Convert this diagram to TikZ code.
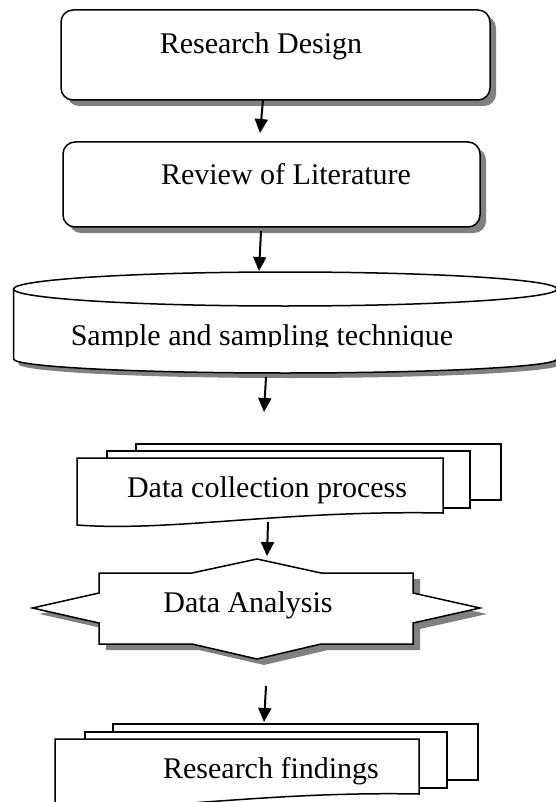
\documentclass[tikz,border=0pt]{standalone}
\usepackage{fontspec}
\newfontfamily\diagfont{Liberation Serif}
\usetikzlibrary{arrows.meta}
\begin{document}
\begin{tikzpicture}[x=1pt,y=-1pt,
  outline/.style={draw=black,line width=1.5pt,fill=white,line join=miter},
  shade/.style={fill=black!50,draw=none},
  txt/.style={anchor=base,inner sep=0pt,font=\diagfont\fontsize{30}{36}\selectfont},
  flow/.style={line width=2pt,-{Triangle[length=14pt,width=13pt]}}]
\useasboundingbox (0,0) rectangle (556,802);
\clip (0,0) rectangle (556,802);

% Research Design
\fill[shade,rounded corners=12pt] (67,16) rectangle (496,106);
\draw[outline,rounded corners=12pt] (61,10) rectangle (490,100);
\node[txt] (rd) at (261,54) {Research Design};

% Review of Literature
\fill[shade,rounded corners=12pt] (69,148) rectangle (486,233);
\draw[outline,rounded corners=12pt] (63,142) rectangle (480,227);
\node[txt] (rl) at (286,185) {Review of Literature};

% Sample and sampling technique (drum)
\def\drumbody{(13.5,289) -- (13.5,359)
  .. controls (13.5,366.7) and (135.25,373) .. (285.25,373)
  .. controls (435.25,373) and (557,366.7) .. (557,359) -- (557,289)}
\fill[shade,shift={(5,5)}] \drumbody -- cycle;
\fill[white] \drumbody -- cycle;
\draw[line width=1.5pt] \drumbody;
\draw[outline] (285.25,289) ellipse [x radius=271.75, y radius=17];
\begin{scope}
  \clip (0,300) rectangle (556,346.5);
  \node[txt] (st) at (262,345) {Sample and sampling technique};
\end{scope}

% Data collection process (stacked documents)
\draw[outline] (136,444) rectangle (501,500);
\draw[outline] (107,451) rectangle (470,508);
\draw[outline] (77,458) -- (443,458) -- (443,513)
  .. controls (283,510) and (170,532) .. (77,525) -- cycle;
\node[txt] (dc) at (267,497) {Data collection process};

% Data Analysis (star banner)
\def\starpath{(257,559) -- (321,573) -- (413,573) -- (413,593) -- (480,608)
  -- (413,623) -- (413,644) -- (321,644) -- (257,659) -- (192,644)
  -- (99,644) -- (99,623) -- (32.5,608) -- (99,593) -- (99,573)
  -- (192,573) -- cycle}
\fill[shade,shift={(7,6)}] \starpath;
\draw[outline] \starpath;
\node[txt] (da) at (248,612) {Data Analysis};

% Research findings (stacked documents)
\draw[outline] (113,724) rectangle (478,780);
\draw[outline] (85,732) rectangle (447,788);
\draw[outline] (55,739) -- (419,739) -- (419,794)
  .. controls (260,791) and (148,813) .. (55,806) -- cycle;
\node[txt] (rf) at (271,778) {Research findings};

% connectors
\coordinate (rd-out) at (263,100);
\coordinate (rl-in) at (260,133);
\coordinate (rl-out) at (261,231);
\coordinate (st-in) at (259,271);
\coordinate (st-out) at (266,377);
\coordinate (dc-in) at (264,412);
\coordinate (dc-out) at (268,522);
\coordinate (da-in) at (267,556);
\coordinate (da-out) at (266,686);
\coordinate (rf-in) at (264,722);
\draw[flow] (rd-out) -- (rl-in);
\draw[flow] (rl-out) -- (st-in);
\draw[flow] (st-out) -- (dc-in);
\draw[flow] (dc-out) -- (da-in);
\draw[flow] (da-out) -- (rf-in);
\end{tikzpicture}
\end{document}
